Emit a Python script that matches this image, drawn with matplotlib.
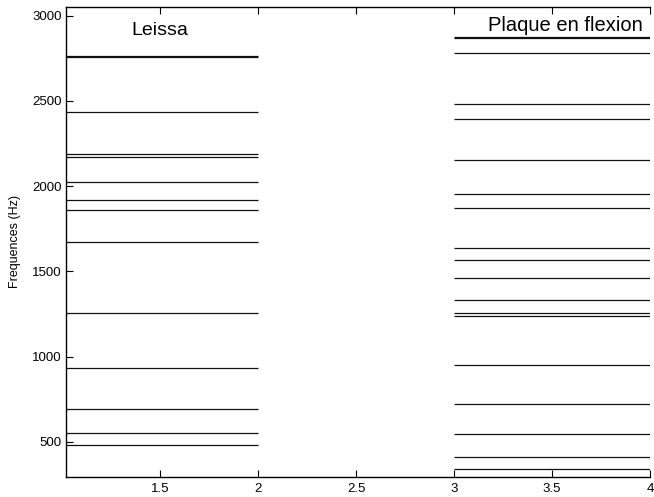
import matplotlib
matplotlib.use("Agg")
import matplotlib.pyplot as plt

plt.rcParams['font.family'] = ['Liberation Sans', 'DejaVu Sans']

# Frequences propres (Hz)
leissa = [480, 551, 694, 930, 1256, 1672, 1861, 1916, 2021, 2172, 2188,
          2432, 2756, 2763]
flexion = [338, 412, 543, 723, 951, 1238, 1256, 1332, 1459, 1568, 1637,
           1869, 1953, 2150, 2391, 2484, 2780, 2866, 2875]

x_leissa = (1, 2)
x_flexion = (3, 4)

fig = plt.figure(figsize=(6.54, 4.97), dpi=100)
ax = fig.add_axes([0.1009, 0.0402, 0.893, 0.9463])

ax.hlines(leissa, x_leissa[0], x_leissa[1], colors="#111111", linewidth=0.9)
ax.hlines(flexion, x_flexion[0], x_flexion[1], colors="#111111", linewidth=0.9)

ax.text(1.5, 2915, "Leissa", ha="center", va="center", fontsize=14)
ax.text(3.57, 2944, "Plaque en flexion", ha="center", va="center", fontsize=14.5)

ax.set_xlim(1.019, 4)
ax.set_ylim(293, 3052)
ax.set_xticks([1.5, 2, 2.5, 3, 3.5, 4])
ax.set_xticklabels(["1.5", "2", "2.5", "3", "3.5", "4"])
ax.set_yticks([500, 1000, 1500, 2000, 2500, 3000])
ax.set_ylabel("Frequences (Hz)", fontsize=9, labelpad=8)

ax.spines["right"].set_visible(False)
for s in ["left", "bottom", "top"]:
    ax.spines[s].set_linewidth(1.0)
ax.tick_params(axis="x", direction="in", top=True, length=5, labelsize=9.5, pad=4)
ax.tick_params(axis="y", direction="in", length=5, labelsize=9.5, pad=3)

fig.savefig("out.png", dpi=100)
